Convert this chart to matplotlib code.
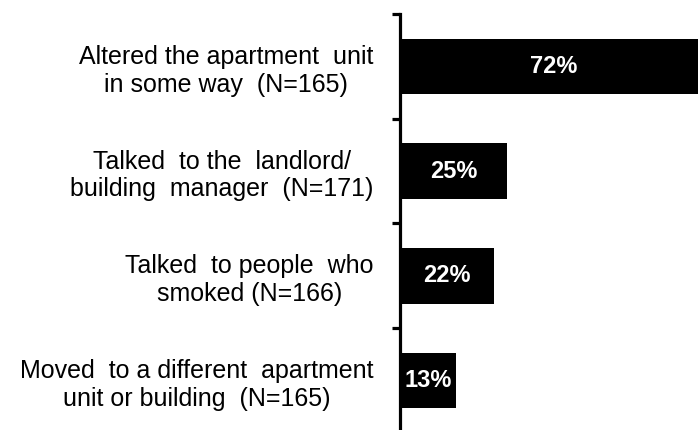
import numpy as np
import matplotlib.pyplot as plt

plt.rcParams['font.family'] = ['Liberation Sans', 'DejaVu Sans']

labels = ["Altered the apartment  unit\nin some way  (N=165)",
          "Talked  to the  landlord/\nbuilding  manager  (N=171)",
          "Talked  to people  who\nsmoked (N=166)",
          "Moved  to a different  apartment\nunit or building  (N=165)"]
values = [72, 25, 22, 13]
value_text = ["72%", "25%", "22%", "13%"]

fig = plt.figure(figsize=(6.98, 4.30), dpi=100)
# axes runs off the right and bottom edge like the cropped original
ax = fig.add_axes([400/698, 1 - 433/430, 320/698, (433 - 14)/430])

y = np.arange(len(values))
ax.barh(y, values, height=0.53, color='black')
for yi, v, t in zip(y, values, value_text):
    ax.text(v/2, yi, t, color='white', fontsize=17, fontweight='bold',
            ha='center', va='center')

ax.set_xlim(0, 320/4.28)
ax.set_ylim(3.5, -0.5)

for s in ['top', 'right', 'bottom']:
    ax.spines[s].set_visible(False)
ax.spines['left'].set_linewidth(2.3)
ax.set_xticks([])

ax.set_yticks(np.arange(-0.5, 4, 1))
ax.set_yticklabels([])
ax.tick_params(axis='y', which='major', length=6, width=2.3, direction='out')
ax.set_yticks(y, minor=True)
ax.set_yticklabels(labels, minor=True, fontsize=18, multialignment='center',
                   linespacing=1.2)
ax.tick_params(axis='y', which='minor', length=0, pad=19)

fig.savefig('out.png', dpi=100)
